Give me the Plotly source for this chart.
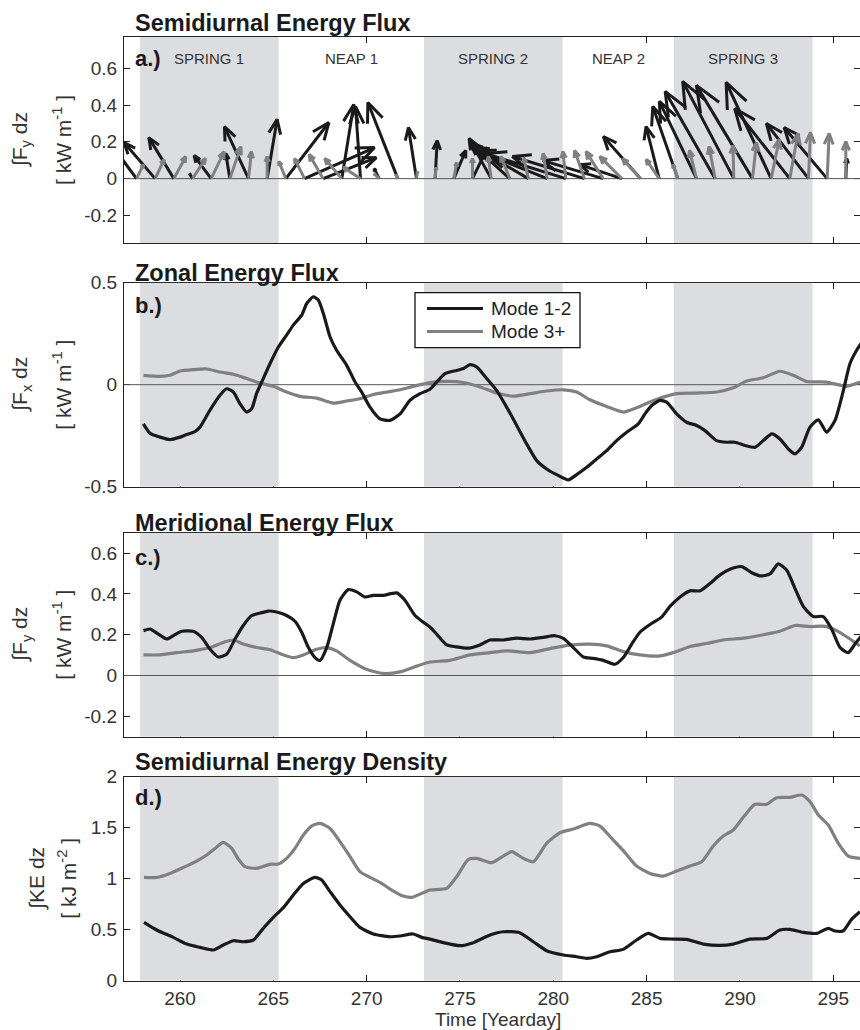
import math
import plotly.graph_objects as go

# ------------------------------------------------------------------ data
PERIOD_NAMES = ["SPRING 1", "NEAP 1", "SPRING 2", "NEAP 2", "SPRING 3"]
PERIOD_START = [257.86, 265.28, 273.07, 280.50, 286.46]
PERIOD_END = [265.28, 273.07, 280.50, 286.46, 293.89]
PERIOD_SHADED = [True, False, True, False, True]

X_RANGE = [257.0, 296.43]
X_TICKS = [260, 265, 270, 275, 280, 285, 290, 295]
X_TICK_TEXT = ["260", "265", "270", "275", "280", "285", "290", "295"]

# panel a : daily semidiurnal flux vectors (kW m^-1), tails on y = 0
ARROW_DAYS = [257.67, 258.67, 259.67, 260.67, 261.67, 262.67, 263.67, 264.67,
              265.67, 266.67, 267.67, 268.67, 269.67, 270.67, 271.67, 272.67,
              273.67, 274.67, 275.67, 276.67, 277.67, 278.67, 279.67, 280.67,
              281.67, 282.67, 283.67, 284.67, 285.67, 286.67, 287.67, 288.67,
              289.67, 290.67, 291.67, 292.67, 293.67, 294.67, 295.67]
M12_U = [-0.136, -0.169, -0.136, -0.016, -0.093, -0.022, -0.131, 0.054,
         0.234, 0.381, 0.289, 0.065, -0.027, -0.027, -0.163, -0.044,
         0.011, 0.065, 0.082, -0.120, -0.218, -0.300, -0.381, -0.436,
         -0.392, -0.327, -0.229, -0.202, -0.071, -0.136, -0.202, -0.272,
         -0.278, -0.305, -0.245, -0.300, -0.229, -0.234, 0.005]
M12_V = [0.185, 0.196, 0.223, 0.027, 0.125, 0.136, 0.283, 0.322,
         0.305, 0.169, 0.114, 0.403, 0.392, 0.054, 0.414, 0.278,
         0.207, 0.153, 0.169, 0.218, 0.196, 0.174, 0.153, 0.136,
         0.120, 0.098, 0.076, 0.229, 0.283, 0.392, 0.420, 0.474,
         0.529, 0.507, 0.523, 0.381, 0.300, 0.278, 0.109]
M3_U = [0.038, 0.049, 0.065, 0.071, 0.071, 0.060, 0.016, 0.000,
        -0.038, -0.054, -0.076, -0.093, -0.093, -0.027, -0.011, 0.005,
        0.005, 0.016, 0.000, -0.016, -0.049, -0.027, -0.022, -0.016,
        -0.054, -0.093, -0.120, -0.098, -0.071, -0.027, -0.038, -0.033,
        -0.005, 0.022, 0.044, 0.044, 0.011, 0.011, 0.000]
M3_V = [0.076, 0.104, 0.120, 0.109, 0.147, 0.174, 0.147, 0.120,
        0.093, 0.109, 0.131, 0.109, 0.060, 0.027, 0.022, 0.038,
        0.060, 0.087, 0.109, 0.120, 0.120, 0.114, 0.136, 0.147,
        0.153, 0.147, 0.120, 0.109, 0.104, 0.076, 0.153, 0.174,
        0.180, 0.196, 0.213, 0.245, 0.251, 0.245, 0.202]
DAYS_PER_KW = 9.85   # quiver x-scale: days drawn per kW m^-1

# panel b : zonal energy flux
ZON12_DAY = [258.04, 258.39, 258.93, 259.46, 260.00, 260.36, 260.80, 261.07, 261.60,
             262.14, 262.50, 262.86, 263.21, 263.57, 263.84, 264.10, 264.46, 264.82,
             265.27, 265.71, 266.07, 266.52, 266.79, 267.14, 267.41, 267.68, 268.04,
             268.39, 268.93, 269.38, 269.73, 270.18, 270.71, 271.25, 271.79, 272.32,
             272.86, 273.39, 273.75, 274.20, 274.82, 275.18, 275.54, 275.89, 276.43,
             276.96, 277.50, 278.04, 278.57, 279.11, 279.64, 280.18, 280.80, 281.25,
             281.79, 282.32, 282.86, 283.39, 283.93, 284.55, 284.91, 285.27, 285.71,
             286.07, 286.61, 287.14, 287.68, 288.13, 288.75, 289.29, 289.73, 290.27,
             290.80, 291.25, 291.70, 292.14, 292.59, 292.95, 293.30, 293.75, 294.20,
             294.64, 295.09, 295.54, 295.89, 296.25, 296.61]
ZON12 = [-0.192, -0.238, -0.257, -0.269, -0.257, -0.244, -0.230, -0.208, -0.126,
         -0.052, -0.020, -0.036, -0.093, -0.134, -0.118, -0.044, 0.030, 0.103,
         0.185, 0.243, 0.292, 0.341, 0.398, 0.431, 0.415, 0.349, 0.234,
         0.169, 0.095, 0.013, -0.036, -0.110, -0.167, -0.175, -0.143, -0.077,
         -0.044, -0.022, 0.013, 0.054, 0.070, 0.079, 0.098, 0.087, 0.030,
         -0.028, -0.110, -0.200, -0.290, -0.372, -0.413, -0.441, -0.467, -0.441,
         -0.405, -0.364, -0.323, -0.274, -0.233, -0.192, -0.143, -0.102, -0.077,
         -0.085, -0.143, -0.184, -0.200, -0.225, -0.274, -0.282, -0.282, -0.298,
         -0.307, -0.274, -0.241, -0.266, -0.315, -0.339, -0.307, -0.208, -0.172,
         -0.233, -0.175, -0.028, 0.103, 0.169, 0.218]
ZON3_DAY = [258.04, 258.93, 259.46, 260.00, 260.71, 261.43, 262.14, 262.86, 263.57,
            264.29, 265.00, 265.71, 266.43, 267.32, 268.21, 268.93, 269.64, 270.36,
            271.07, 271.79, 272.50, 273.39, 274.29, 275.18, 276.07, 276.96, 277.86,
            278.75, 279.64, 280.54, 281.25, 281.96, 282.86, 283.75, 284.46, 285.18,
            285.89, 286.61, 287.68, 288.75, 289.64, 290.36, 291.25, 292.14, 292.86,
            293.57, 294.64, 295.71, 296.43]
ZON3 = [0.046, 0.041, 0.046, 0.067, 0.074, 0.077, 0.062, 0.051, 0.030,
        0.008, -0.008, -0.036, -0.057, -0.066, -0.090, -0.080, -0.069, -0.048,
        -0.036, -0.025, -0.008, 0.010, 0.016, 0.011, -0.011, -0.041, -0.056,
        -0.044, -0.031, -0.025, -0.036, -0.074, -0.107, -0.134, -0.113, -0.085,
        -0.061, -0.044, -0.041, -0.036, -0.015, 0.018, 0.034, 0.066, 0.046,
        0.016, 0.013, -0.008, 0.013]

# panel c : meridional energy flux
MER12_DAY = [258.04, 258.39, 258.84, 259.29, 259.64, 260.09, 260.71, 261.16, 261.61,
             262.05, 262.50, 262.95, 263.39, 263.84, 264.29, 264.73, 265.18, 265.71,
             266.16, 266.52, 266.88, 267.23, 267.50, 267.86, 268.21, 268.57, 269.02,
             269.46, 269.91, 270.36, 270.89, 271.61, 272.05, 272.59, 273.04, 273.39,
             273.75, 274.29, 274.82, 275.45, 276.07, 276.61, 277.32, 278.04, 278.75,
             279.46, 280.09, 280.54, 281.07, 281.61, 282.14, 282.68, 283.30, 283.75,
             284.20, 284.64, 285.18, 285.80, 286.25, 286.79, 287.32, 287.86, 288.39,
             288.93, 289.46, 290.09, 290.63, 291.16, 291.61, 292.05, 292.50, 292.95,
             293.39, 293.93, 294.46, 294.91, 295.36, 295.80, 296.16, 296.52]
MER12 = [0.220, 0.228, 0.203, 0.179, 0.195, 0.217, 0.217, 0.187, 0.129,
         0.091, 0.104, 0.179, 0.245, 0.294, 0.306, 0.316, 0.311, 0.294,
         0.266, 0.212, 0.137, 0.088, 0.074, 0.137, 0.253, 0.369, 0.421,
         0.410, 0.385, 0.393, 0.393, 0.405, 0.369, 0.294, 0.261, 0.238,
         0.203, 0.150, 0.140, 0.134, 0.150, 0.174, 0.174, 0.183, 0.179,
         0.187, 0.195, 0.182, 0.137, 0.091, 0.084, 0.074, 0.055, 0.088,
         0.154, 0.212, 0.250, 0.286, 0.339, 0.385, 0.415, 0.415, 0.451,
         0.493, 0.521, 0.534, 0.504, 0.488, 0.498, 0.547, 0.517, 0.426,
         0.339, 0.289, 0.289, 0.228, 0.137, 0.112, 0.154, 0.195]
MER3_DAY = [258.04, 258.93, 259.82, 260.71, 261.61, 262.32, 262.86, 263.39, 264.11,
            264.82, 265.54, 266.07, 266.61, 267.32, 267.86, 268.39, 269.11, 270.00,
            270.89, 271.79, 272.68, 273.39, 274.46, 275.54, 276.61, 277.50, 278.75,
            279.82, 280.89, 281.96, 282.86, 283.75, 284.64, 285.71, 286.43, 287.32,
            288.21, 289.11, 290.18, 291.25, 292.14, 292.95, 293.75, 294.55, 295.18,
            295.89, 296.43]
MER3 = [0.101, 0.101, 0.112, 0.121, 0.137, 0.162, 0.174, 0.154, 0.137,
        0.126, 0.101, 0.088, 0.101, 0.129, 0.137, 0.121, 0.074, 0.030,
        0.010, 0.018, 0.046, 0.066, 0.074, 0.101, 0.112, 0.121, 0.112,
        0.132, 0.149, 0.154, 0.145, 0.117, 0.101, 0.096, 0.112, 0.142,
        0.157, 0.174, 0.183, 0.200, 0.217, 0.245, 0.240, 0.241, 0.220,
        0.179, 0.145]

# panel d : semidiurnal energy density
KE12_DAY = [258.07, 258.75, 259.64, 260.36, 261.07, 261.79, 262.32, 262.86, 263.39,
            263.93, 264.46, 265.00, 265.54, 266.07, 266.61, 267.23, 267.59, 268.04,
            268.57, 269.11, 269.64, 270.36, 271.25, 271.79, 272.50, 272.95, 273.39,
            274.11, 275.00, 275.71, 276.61, 277.32, 278.20, 278.93, 279.64, 280.54,
            281.25, 281.79, 282.32, 283.04, 283.75, 284.46, 285.09, 285.71, 286.43,
            287.14, 288.04, 288.93, 289.64, 290.54, 291.43, 292.14, 292.68, 293.39,
            294.11, 294.73, 295.09, 295.54, 295.98, 296.43]
KE12 = [0.572, 0.497, 0.425, 0.359, 0.327, 0.301, 0.350, 0.392, 0.382,
        0.399, 0.513, 0.621, 0.716, 0.840, 0.954, 1.013, 0.987, 0.873,
        0.742, 0.627, 0.523, 0.458, 0.431, 0.438, 0.458, 0.425, 0.408,
        0.373, 0.343, 0.373, 0.448, 0.480, 0.471, 0.382, 0.294, 0.252,
        0.235, 0.219, 0.235, 0.284, 0.307, 0.399, 0.464, 0.415, 0.408,
        0.405, 0.359, 0.346, 0.359, 0.408, 0.415, 0.497, 0.503, 0.474,
        0.464, 0.513, 0.487, 0.490, 0.601, 0.676]
KE3_DAY = [258.07, 258.75, 259.46, 260.18, 260.89, 261.43, 261.88, 262.32, 262.77,
           263.13, 263.48, 264.11, 264.82, 265.27, 265.71, 266.16, 266.61, 267.05,
           267.50, 268.04, 268.57, 269.11, 269.64, 270.18, 270.80, 271.34, 271.96,
           272.41, 272.95, 273.39, 274.29, 274.82, 275.45, 275.89, 276.70, 277.32,
           277.77, 278.39, 278.93, 279.64, 280.36, 281.07, 281.96, 282.50, 283.13,
           283.75, 284.46, 285.18, 285.89, 286.61, 287.32, 287.95, 288.57, 289.11,
           289.64, 290.27, 290.80, 291.43, 291.96, 292.68, 293.30, 293.75, 294.20,
           294.73, 295.27, 295.80, 296.43]
KE3 = [1.013, 1.013, 1.052, 1.111, 1.173, 1.232, 1.297, 1.356, 1.297,
       1.190, 1.118, 1.101, 1.141, 1.144, 1.199, 1.297, 1.428, 1.516,
       1.542, 1.493, 1.363, 1.216, 1.069, 1.013, 0.954, 0.889, 0.830,
       0.817, 0.856, 0.889, 0.905, 1.020, 1.190, 1.199, 1.157, 1.222,
       1.265, 1.199, 1.167, 1.346, 1.451, 1.487, 1.542, 1.516, 1.395,
       1.275, 1.124, 1.052, 1.026, 1.075, 1.124, 1.167, 1.320, 1.418,
       1.477, 1.624, 1.729, 1.729, 1.794, 1.797, 1.820, 1.755, 1.624,
       1.526, 1.346, 1.222, 1.199]

PANEL_TITLES = ["Semidiurnal Energy Flux", "Zonal Energy Flux",
                "Meridional Energy Flux", "Semidiurnal Energy Density"]
PANEL_TAGS = ["a.)", "b.)", "c.)", "d.)"]
YLABEL_TOP = ["∫F<sub>y</sub> dz", "∫F<sub>x</sub> dz", "∫F<sub>y</sub> dz", "∫KE dz"]
YLABEL_BOT = ["[ kW m<sup>-1</sup> ]", "[ kW m<sup>-1</sup> ]",
              "[ kW m<sup>-1</sup> ]", "[ kJ m<sup>-2</sup> ]"]
Y_RANGES = [[-0.35, 0.77], [-0.5, 0.5], [-0.3, 0.7], [0.0, 2.0]]
Y_TICKS = [[-0.2, 0, 0.2, 0.4, 0.6], [-0.5, 0, 0.5], [-0.2, 0, 0.2, 0.4, 0.6],
           [0, 0.5, 1, 1.5, 2]]
Y_TICK_TEXT = [["-0.2", "0", "0.2", "0.4", "0.6"], ["-0.5", "0", "0.5"],
               ["-0.2", "0", "0.2", "0.4", "0.6"], ["0", "0.5", "1", "1.5", "2"]]
LEGEND_NAMES = ["Mode 1-2", "Mode 3+"]

# ------------------------------------------------------------------ style / geometry
W, H = 860, 1030
PLOT_LEFT = 124
PANEL_TOP = [37, 282.7, 532.7, 776.7]
PANEL_BOT = [243, 486.7, 736.7, 980.7]
TITLE_Y = [23, 272.5, 522.5, 762]
TAG_Y = [58, 305, 557, 797]
YLAB_X = [(21, 62), (21, 62), (21, 62), (37, 67)]
SHADE = "#dcdde0"
BLACK = "#1a1a1a"
GREY = "#808080"
AXC = "#222222"
FONT = "Liberation Sans"
HEAD_FRAC = 0.26
HEAD_ANGLE = math.pi / 8


def px(xp):
    return xp / W


def py(yp):
    return 1 - yp / H


def quiver_lines(t0, U, V):
    """Shafts + open heads of a quiver plot with tails on y = 0."""
    xs, ys = [], []
    for t, u, v in zip(t0, U, V):
        x1, y1 = t + u * DAYS_PER_KW, v
        length = math.hypot(u, v)
        ang = math.atan2(v, u)
        h = length * HEAD_FRAC
        xa = x1 - h * math.cos(ang + HEAD_ANGLE) * DAYS_PER_KW
        ya = y1 - h * math.sin(ang + HEAD_ANGLE)
        xb = x1 - h * math.cos(ang - HEAD_ANGLE) * DAYS_PER_KW
        yb = y1 - h * math.sin(ang - HEAD_ANGLE)
        xs += [t, x1, None, xa, x1, xb, None]
        ys += [0, y1, None, ya, y1, yb, None]
    return xs, ys


fig = go.Figure()
suffix = ["", "2", "3", "4"]
series = [None,
          ((ZON12_DAY, ZON12), (ZON3_DAY, ZON3)),
          ((MER12_DAY, MER12), (MER3_DAY, MER3)),
          ((KE12_DAY, KE12), (KE3_DAY, KE3))]

for i in range(4):
    xa, ya = "x" + suffix[i], "y" + suffix[i]
    lo, hi = Y_RANGES[i]
    for s, e, sh in zip(PERIOD_START, PERIOD_END, PERIOD_SHADED):
        if sh:
            fig.add_trace(go.Scatter(x=[s, e, e, s, s], y=[lo, lo, hi, hi, lo],
                                     mode="lines", fill="toself", fillcolor=SHADE,
                                     line=dict(width=0, color=SHADE),
                                     hoverinfo="skip", showlegend=False,
                                     xaxis=xa, yaxis=ya))
    if i < 3:
        fig.add_trace(go.Scatter(x=X_RANGE, y=[0, 0], mode="lines",
                                 line=dict(color="#555555", width=1),
                                 hoverinfo="skip", showlegend=False,
                                 xaxis=xa, yaxis=ya))
    if i == 0:
        for U, V, col in ((M12_U, M12_V, BLACK), (M3_U, M3_V, GREY)):
            qx, qy = quiver_lines(ARROW_DAYS, U, V)
            fig.add_trace(go.Scatter(x=qx, y=qy, mode="lines",
                                     line=dict(color=col, width=3),
                                     hoverinfo="skip", showlegend=False,
                                     xaxis=xa, yaxis=ya))
    else:
        (d1, v1), (d2, v2) = series[i]
        fig.add_trace(go.Scatter(x=d2, y=v2, mode="lines", name=LEGEND_NAMES[1],
                                 line=dict(color=GREY, width=3.2, shape="spline",
                                           smoothing=0.6),
                                 showlegend=False, xaxis=xa, yaxis=ya))
        fig.add_trace(go.Scatter(x=d1, y=v1, mode="lines", name=LEGEND_NAMES[0],
                                 line=dict(color=BLACK, width=3.2, shape="spline",
                                           smoothing=0.6),
                                 showlegend=False, xaxis=xa, yaxis=ya))

layout = dict(template="none", width=W, height=H,
              margin=dict(l=0, r=0, t=0, b=0, pad=0), autosize=False,
              paper_bgcolor="white", plot_bgcolor="white", showlegend=False,
              font=dict(family=FONT, color="#333333"))
annotations = []
shapes = []
for i in range(4):
    dom_y = [py(PANEL_BOT[i]), py(PANEL_TOP[i])]
    layout["xaxis" + suffix[i]] = dict(
        domain=[px(PLOT_LEFT), 1], range=X_RANGE, tickvals=X_TICKS,
        ticktext=X_TICK_TEXT, ticks="inside", ticklen=6, tickwidth=1,
        tickcolor=AXC, showline=True, linecolor=AXC, linewidth=1.3,
        mirror="ticks", showgrid=False, zeroline=False, layer="below traces",
        showticklabels=(i == 3), anchor="y" + suffix[i], automargin=False,
        tickfont=dict(size=19, family=FONT, color="#333333"))
    layout["yaxis" + suffix[i]] = dict(
        domain=dom_y, range=Y_RANGES[i], tickvals=Y_TICKS[i],
        ticktext=Y_TICK_TEXT[i], ticks="inside", ticklen=6, tickwidth=1,
        tickcolor=AXC, showline=True, linecolor=AXC, linewidth=1.3,
        mirror="ticks", showgrid=False, zeroline=False, layer="below traces",
        anchor="x" + suffix[i], ticklabelstandoff=2, automargin=False,
        tickfont=dict(size=19, family=FONT, color="#333333"))
    annotations.append(dict(text="<b>" + PANEL_TITLES[i] + "</b>", x=px(133),
                            y=py(TITLE_Y[i]), xref="paper", yref="paper",
                            xanchor="left", yanchor="middle", showarrow=False,
                            font=dict(size=23.5, family=FONT, color="#1a1a1a")))
    annotations.append(dict(text="<b>" + PANEL_TAGS[i] + "</b>", x=px(133),
                            y=py(TAG_Y[i]), xref="paper", yref="paper",
                            xanchor="left", yanchor="middle", showarrow=False,
                            font=dict(size=22, family=FONT, color="#1a1a1a")))
    ymid = py((PANEL_TOP[i] + PANEL_BOT[i]) / 2)
    for txt, xc in zip((YLABEL_TOP[i], YLABEL_BOT[i]), YLAB_X[i]):
        annotations.append(dict(text=txt, x=px(xc), y=ymid, xref="paper",
                                yref="paper", xanchor="center", yanchor="middle",
                                textangle=-90, showarrow=False,
                                font=dict(size=21, family=FONT, color="#333333")))

for name, s, e in zip(PERIOD_NAMES, PERIOD_START, PERIOD_END):
    annotations.append(dict(text=name, x=(s + e) / 2, y=0.655, xref="x", yref="y",
                            xanchor="center", yanchor="middle", showarrow=False,
                            font=dict(size=15, family=FONT, color="#333333")))

annotations.append(dict(text="Time [Yearday]", x=px(498), y=py(1019), xref="paper",
                        yref="paper", xanchor="center", yanchor="middle",
                        showarrow=False,
                        font=dict(size=19, family=FONT, color="#333333")))

LEG = dict(x0=415, x1=580, y0=292.7, y1=347.7)
shapes.append(dict(type="rect", xref="paper", yref="paper", x0=px(LEG["x0"]),
                   x1=px(LEG["x1"]), y0=py(LEG["y1"]), y1=py(LEG["y0"]),
                   line=dict(color="#111111", width=1.3), fillcolor="white",
                   layer="above"))
for name, col, yy in zip(LEGEND_NAMES, (BLACK, GREY), (308.5, 331.5)):
    shapes.append(dict(type="line", xref="paper", yref="paper", x0=px(427),
                       x1=px(483), y0=py(yy), y1=py(yy),
                       line=dict(color=col, width=3.2), layer="above"))
    annotations.append(dict(text=name, x=px(489), y=py(yy), xref="paper",
                            yref="paper", xanchor="left", yanchor="middle",
                            showarrow=False,
                            font=dict(size=19, family=FONT, color="#222222")))

layout["annotations"] = annotations
layout["shapes"] = shapes
fig.update_layout(**layout)
fig.write_html("out.html", config={"displayModeBar": False},
               post_script="document.body.style.margin='0px';")
